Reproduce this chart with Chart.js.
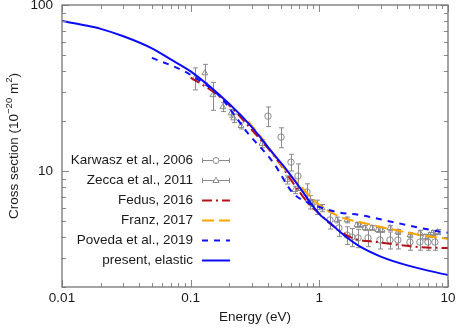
<!DOCTYPE html>
<html>
<head>
<meta charset="utf-8">
<script src="https://cdn.jsdelivr.net/npm/chart.js@4.4.0/dist/chart.umd.min.js"></script>
<style>
  html, body { margin: 0; padding: 0; background: #fff; }
  canvas { display: block; }
</style>
</head>
<body>
<canvas id="crossSectionChart" width="457" height="328"></canvas>
<script>
// Axis ticks
const xTickValues = [0.01, 0.1, 1, 10];
const xTickLabels = ['0.01', '0.1', '1', '10'];
const yTickValues = [10, 100];
const yTickLabels = ['10', '100'];

const xTitle = 'Energy (eV)';

// Karwasz et al., 2006 (circles with error bars)
const karwaszE   = [0.399, 0.504, 0.602, 0.682, 0.802, 0.85, 0.957, 1.21, 1.42, 1.64, 1.79, 2.0, 2.39, 2.96, 3.54, 4.08, 5.06, 6.05, 6.98, 7.91];
const karwaszCS  = [21.4, 16.0, 11.3, 9.33, 7.47, 6.5, 6.07, 5.07, 4.54, 4.11, 4.0, 3.95, 3.95, 3.84, 3.84, 3.84, 3.73, 3.73, 3.73, 3.73];
const karwaszErr = [2.9, 2.2, 1.3, 1.7, 0.9, 0.6, 0.6, 0.6, 0.5, 0.5, 0.5, 0.5, 0.45, 0.45, 0.45, 0.45, 0.4, 0.4, 0.4, 0.4];

// Zecca et al., 2011 (triangles with error bars)
const zeccaE   = [0.108, 0.129, 0.149, 0.178, 0.206, 0.216, 0.246, 0.358, 0.56, 0.646, 0.877, 1.05, 1.37, 1.64, 1.96, 2.07, 2.26, 2.56, 2.85, 3.07, 3.54, 4.08, 5.06, 6.05, 6.6, 7.2, 7.6, 8.3];
const zeccaCS  = [36.3, 38.9, 28.7, 24.3, 22.3, 20.8, 18.7, 14.6, 8.84, 7.7, 6.41, 5.98, 5.07, 5.07, 4.73, 4.73, 4.54, 4.54, 4.42, 4.42, 4.54, 4.29, 4.11, 4.23, 4.0, 4.11, 4.23, 4.29];
const zeccaErr = [5.5, 5.0, 5.5, 1.5, 1.2, 1.2, 0.8, 0.8, 0.5, 0.4, 0.3, 0.3, 0.2, 0.2, 0.15, 0.15, 0.15, 0.15, 0.15, 0.15, 0.15, 0.15, 0.15, 0.15, 0.15, 0.15, 0.15, 0.15];

// Fedus, 2016
const fedusE  = [0.1, 0.15, 0.2, 0.3, 0.45, 0.7, 0.85, 1.0, 1.2, 1.8, 2.8, 6.0, 10];
const fedusCS = [36.5, 30, 24.8, 17.6, 12.2, 7.5, 6.2, 5.55, 4.85, 3.95, 3.73, 3.48, 3.43];

// Franz, 2017
const franzE  = [0.28, 0.35, 0.52, 0.7, 0.96, 1.45, 2.0, 3.0, 6.0, 10];
const franzCS = [19.9, 16.1, 10.6, 8.25, 6.4, 5.29, 4.95, 4.6, 4.12, 3.9];

// Poveda et al., 2019
const povedaE  = [0.05, 0.085, 0.1, 0.17, 0.24, 0.27, 0.44, 0.62, 0.8, 1.0, 1.37, 2.07, 3.7, 6.0, 9.1, 10];
const povedaCS = [48, 40.6, 37.9, 27.9, 19.7, 17.4, 11.2, 7.4, 6.5, 6.07, 5.66, 5.43, 4.93, 4.55, 4.29, 4.25];

// present, elastic
const presentE  = [0.01, 0.015, 0.02, 0.03, 0.05, 0.07, 0.1, 0.2, 0.3, 0.45, 0.56, 0.7, 1.0, 1.2, 1.5, 2.0, 3.0, 5.0, 10];
const presentCS = [80, 75.5, 71.8, 64.8, 54.8, 47, 39.8, 25.3, 18.3, 12.4, 10.1, 8.0, 5.5, 4.9, 4.2, 3.56, 3.05, 2.68, 2.36];

const FONT = '"Liberation Sans", Arial, Helvetica, sans-serif';
const FONT_SIZE = 13.5;
const GRAY = '#8a8a8a';

function toPoints(xs, ys) {
    return xs.map((x, i) => ({ x: x, y: ys[i] }));
}

function lineSet(label, xs, ys, color, dash, order) {
    return {
        label: label,
        data: toPoints(xs, ys),
        showLine: true,
        borderColor: color,
        backgroundColor: color,
        borderWidth: 2,
        borderDash: dash,
        pointRadius: 0,
        cubicInterpolationMode: 'monotone',
        fill: false,
        order: order
    };
}

function errorSet(label, xs, ys, errs, style) {
    return {
        label: label,
        data: toPoints(xs, ys),
        errors: errs,
        showLine: false,
        pointStyle: style,
        pointRadius: style === 'circle' ? 3.2 : 3.4,
        borderWidth: 1,
        borderColor: GRAY,
        backgroundColor: 'rgba(255,255,255,0)',
        order: 10
    };
}

const datasets = [
    errorSet('Karwasz et al., 2006', karwaszE, karwaszCS, karwaszErr, 'circle'),
    errorSet('Zecca et al., 2011', zeccaE, zeccaCS, zeccaErr, 'triangle'),
    lineSet('Fedus, 2016', fedusE, fedusCS, '#b5121b', [10, 4, 2, 4], 4),
    lineSet('Franz, 2017', franzE, franzCS, '#ffa500', [12, 5], 3),
    lineSet('Poveda et al., 2019', povedaE, povedaCS, '#1010ff', [6, 6], 2),
    lineSet('present, elastic', presentE, presentCS, '#0a0aff', [], 1)
];

// Draws the error bars behind the markers
const errorBars = {
    id: 'errorBars',
    beforeDatasetsDraw(chart) {
        const ctx = chart.ctx;
        const xs = chart.scales.x;
        const ys = chart.scales.y;
        const area = chart.chartArea;
        ctx.save();
        ctx.beginPath();
        ctx.rect(area.left, area.top, area.right - area.left, area.bottom - area.top);
        ctx.clip();
        ctx.strokeStyle = GRAY;
        ctx.lineWidth = 1;
        chart.data.datasets.forEach(ds => {
            if (!ds.errors) return;
            ds.data.forEach((p, i) => {
                const px = Math.round(xs.getPixelForValue(p.x)) + 0.5;
                const top = ys.getPixelForValue(p.y + ds.errors[i]);
                const bot = ys.getPixelForValue(p.y - ds.errors[i]);
                ctx.beginPath();
                ctx.moveTo(px, top);
                ctx.lineTo(px, bot);
                ctx.moveTo(px - 2.5, top);
                ctx.lineTo(px + 2.5, top);
                ctx.moveTo(px - 2.5, bot);
                ctx.lineTo(px + 2.5, bot);
                ctx.stroke();
            });
        });
        ctx.restore();
    }
};

// Frame, inward ticks, tick labels, axis titles and the legend
const frameAndLabels = {
    id: 'frameAndLabels',
    afterDraw(chart) {
        const ctx = chart.ctx;
        const xs = chart.scales.x;
        const ys = chart.scales.y;
        const a = chart.chartArea;
        const big = FONT_SIZE + 'px ' + FONT;
        ctx.save();

        // ticks
        ctx.strokeStyle = GRAY;
        ctx.lineWidth = 1;
        ctx.beginPath();
        for (let dec = 0.01; dec < 10.5; dec *= 10) {
            for (let k = 1; k <= 9; k++) {
                const v = dec * k;
                if (v < xs.min - 1e-9 || v > xs.max + 1e-9) continue;
                const len = k === 1 ? 7 : 4;
                const px = Math.round(xs.getPixelForValue(v)) + 0.5;
                ctx.moveTo(px, a.bottom); ctx.lineTo(px, a.bottom - len);
                ctx.moveTo(px, a.top); ctx.lineTo(px, a.top + len);
            }
        }
        for (let dec = 1; dec < 150; dec *= 10) {
            for (let k = 1; k <= 9; k++) {
                const v = dec * k;
                if (v < ys.min - 1e-9 || v > ys.max + 1e-9) continue;
                const len = k === 1 ? 7 : 4;
                const py = Math.round(ys.getPixelForValue(v)) + 0.5;
                ctx.moveTo(a.left, py); ctx.lineTo(a.left + len, py);
                ctx.moveTo(a.right, py); ctx.lineTo(a.right - len, py);
            }
        }
        ctx.stroke();

        // frame
        ctx.strokeStyle = '#737373';
        ctx.lineWidth = 1.3;
        ctx.strokeRect(a.left, a.top, a.right - a.left, a.bottom - a.top);

        // tick labels
        ctx.fillStyle = '#1a1a1a';
        ctx.font = big;
        ctx.textAlign = 'center';
        ctx.textBaseline = 'middle';
        xTickValues.forEach((v, i) => {
            ctx.fillText(xTickLabels[i], xs.getPixelForValue(v), a.bottom + 11);
        });
        ctx.textAlign = 'right';
        yTickValues.forEach((v, i) => {
            ctx.fillText(yTickLabels[i], a.left - 9, ys.getPixelForValue(v));
        });

        // x title
        ctx.textAlign = 'center';
        ctx.fillText(xTitle, (a.left + a.right) / 2, a.bottom + 30);

        // y title with superscripts
        const parts = [
            { t: 'Cross section (10', sup: false },
            { t: '\u221220', sup: true },
            { t: ' m', sup: false },
            { t: '2', sup: true },
            { t: ')', sup: false }
        ];
        const small = '9.5px ' + FONT;
        let total = 0;
        parts.forEach(p => { ctx.font = p.sup ? small : big; p.w = ctx.measureText(p.t).width; total += p.w; });
        ctx.translate(14, (a.top + a.bottom) / 2);
        ctx.rotate(-Math.PI / 2);
        ctx.textAlign = 'left';
        let cx = -total / 2;
        parts.forEach(p => {
            ctx.font = p.sup ? small : big;
            ctx.fillText(p.t, cx, p.sup ? -5 : 0);
            cx += p.w;
        });
        ctx.setTransform(1, 0, 0, 1, 0, 0);

        // legend
        const textRight = 193, s0 = 202, s1 = 230, rowTop = 160, rowStep = 20;
        chart.data.datasets.forEach((ds, i) => {
            const y = rowTop + i * rowStep;
            ctx.font = big;
            ctx.fillStyle = '#1a1a1a';
            ctx.textAlign = 'right';
            ctx.textBaseline = 'middle';
            ctx.fillText(ds.label, textRight, y);
            const yy = Math.round(y) + 0.5;
            ctx.beginPath();
            if (ds.errors) {
                ctx.strokeStyle = GRAY;
                ctx.lineWidth = 1;
                ctx.setLineDash([]);
                ctx.moveTo(s0, yy); ctx.lineTo(s1, yy);
                ctx.moveTo(s0 + 0.5, yy - 2.5); ctx.lineTo(s0 + 0.5, yy + 2.5);
                ctx.moveTo(s1 - 0.5, yy - 2.5); ctx.lineTo(s1 - 0.5, yy + 2.5);
                ctx.stroke();
                const mx = (s0 + s1) / 2;
                ctx.fillStyle = '#fff';
                ctx.beginPath();
                if (ds.pointStyle === 'circle') {
                    ctx.arc(mx, yy, 3, 0, Math.PI * 2);
                } else {
                    ctx.moveTo(mx, yy - 3.2);
                    ctx.lineTo(mx + 3, yy + 2);
                    ctx.lineTo(mx - 3, yy + 2);
                    ctx.closePath();
                }
                ctx.fill();
                ctx.stroke();
            } else {
                ctx.strokeStyle = ds.borderColor;
                ctx.lineWidth = 2;
                ctx.setLineDash(ds.borderDash);
                ctx.moveTo(s0, yy); ctx.lineTo(s1, yy);
                ctx.stroke();
                ctx.setLineDash([]);
            }
        });
        ctx.restore();
    }
};

document.addEventListener('DOMContentLoaded', function() {
    const ctx = document.getElementById('crossSectionChart').getContext('2d');
    new Chart(ctx, {
        type: 'scatter',
        data: { datasets: datasets },
        options: {
            responsive: false,
            animation: false,
            devicePixelRatio: 1,
            layout: { padding: { left: 62, right: 9, top: 5, bottom: 41 } },
            scales: {
                x: { type: 'logarithmic', min: 0.01, max: 10, display: false },
                y: { type: 'logarithmic', min: 2, max: 100, display: false }
            },
            plugins: {
                legend: { display: false },
                tooltip: { enabled: false }
            }
        },
        plugins: [errorBars, frameAndLabels]
    });
});
</script>
</body>
</html>
